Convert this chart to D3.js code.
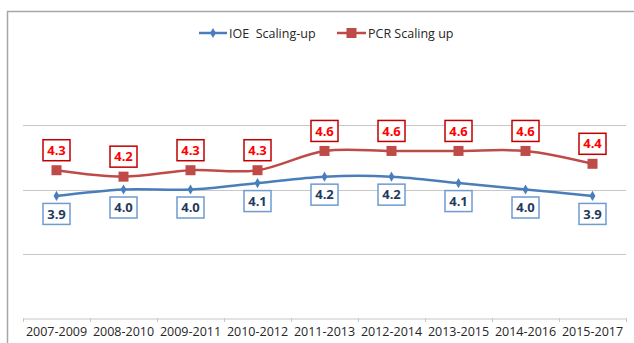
<!DOCTYPE html>
<html>
<head>
<meta charset="utf-8">
<script src="https://cdn.jsdelivr.net/npm/d3@7"></script>
<style>
  html, body { margin: 0; padding: 0; background: #fff; }
  svg { display: block; }
  text { font-family: "Open Sans", "Liberation Sans", sans-serif; }
</style>
</head>
<body>
<svg id="chart" width="634" height="343"></svg>
<script>
// Three-year rolling periods on the x axis
const periods = ["2007-2009", "2008-2010", "2009-2011", "2010-2012", "2011-2013",
                 "2012-2014", "2013-2015", "2014-2016", "2015-2017"];
// Average ratings per period
const ioeValues = [3.9, 4.0, 4.0, 4.1, 4.2, 4.2, 4.1, 4.0, 3.9];
const pcrValues = [4.3, 4.2, 4.3, 4.3, 4.6, 4.6, 4.6, 4.6, 4.4];
// Horizontal gridline values
const gridValues = [3, 4, 5];
const seriesNames = ["IOE  Scaling-up", "PCR Scaling up"];

const svg = d3.select("#chart");
const W = 634, H = 343;
const plot = { left: 23, right: 626, top: 61, bottom: 318 };

const x = d3.scaleBand().domain(periods).range([plot.left, plot.right]);
const y = d3.scaleLinear().domain([2, 6]).range([plot.bottom, plot.top]);

// Chart frame (top and left edges visible)
svg.append("path")
  .attr("d", `M7.5,${H} V11.5 H${W}`)
  .attr("fill", "none")
  .attr("stroke", "#a6a6a6")
  .attr("stroke-width", 1.5);

// Gridlines
svg.append("g").selectAll("line").data(gridValues).join("line")
  .attr("x1", plot.left).attr("x2", plot.right)
  .attr("y1", d => Math.round(y(d)) + 0.5).attr("y2", d => Math.round(y(d)) + 0.5)
  .attr("stroke", "#c8c8c8").attr("stroke-width", 1);

// Category axis
const xAxis = svg.append("g")
  .attr("transform", `translate(0,${plot.bottom + 0.5})`)
  .call(d3.axisBottom(x).tickSize(0).tickPadding(9));
xAxis.select(".domain").attr("stroke", "#c8c8c8");
xAxis.selectAll("text")
  .attr("font-size", 12.5)
  .attr("fill", "#262626")
  .attr("font-family", "'Open Sans', sans-serif");
// Tick marks between categories
const boundaries = periods.map(p => x(p)).concat([x.range()[1]]);
svg.append("g").selectAll("line").data(boundaries).join("line")
  .attr("x1", d => Math.round(d) + 0.5).attr("x2", d => Math.round(d) + 0.5)
  .attr("y1", plot.bottom).attr("y2", plot.bottom + 4)
  .attr("stroke", "#c8c8c8");

const cx = d => x(d) + x.bandwidth() / 2;
// Smoothed lines
const line = d3.line().x(d => cx(d.p)).y(d => y(d.v)).curve(d3.curveCatmullRom.alpha(0.5));

const ioe = periods.map((p, i) => ({ p, v: ioeValues[i] }));
const pcr = periods.map((p, i) => ({ p, v: pcrValues[i] }));

const blue = "#4a7ebb", red = "#be4b48";

// IOE series
svg.append("path").datum(ioe).attr("d", line)
  .attr("fill", "none").attr("stroke", blue).attr("stroke-width", 2.5)
  .attr("stroke-linejoin", "round");
svg.append("g").selectAll("path").data(ioe).join("path")
  .attr("d", d3.symbol(d3.symbolDiamond, 30))
  .attr("transform", d => `translate(${cx(d.p)},${y(d.v)})`)
  .attr("fill", blue);

// PCR series
svg.append("path").datum(pcr).attr("d", line)
  .attr("fill", "none").attr("stroke", red).attr("stroke-width", 2.5)
  .attr("stroke-linejoin", "round");
svg.append("g").selectAll("rect").data(pcr).join("rect")
  .attr("x", d => cx(d.p) - 5).attr("y", d => y(d.v) - 5)
  .attr("width", 10).attr("height", 10)
  .attr("fill", red);

const fmt = d3.format(".1f");

// Boxed value labels
function labels(data, dy, boxStroke, textFill) {
  const g = svg.append("g").selectAll("g").data(data).join("g")
    .attr("transform", d => `translate(${cx(d.p)},${y(d.v) + dy})`);
  g.append("rect")
    .attr("x", -13.5).attr("y", -10.5).attr("width", 27).attr("height", 21)
    .attr("fill", "#fff").attr("stroke", boxStroke).attr("stroke-width", 1.5);
  g.append("text")
    .attr("text-anchor", "middle").attr("dy", "0.36em")
    .attr("font-size", 13).attr("font-weight", "bold")
    .attr("fill", textFill)
    .text(d => fmt(d.v));
}
labels(pcr, -20, "#c00000", "#ff0000");
labels(ioe, 18, "#6f9bd1", "#1f3a60");

// Legend
const legend = svg.append("g").attr("transform", "translate(0,33)");
legend.append("line").attr("x1", 199).attr("x2", 227).attr("y1", 0).attr("y2", 0)
  .attr("stroke", blue).attr("stroke-width", 2.5);
legend.append("path").attr("d", d3.symbol(d3.symbolDiamond, 30))
  .attr("transform", "translate(213,0)").attr("fill", blue);
legend.append("text").attr("x", 229).attr("dy", "0.36em")
  .attr("font-size", 12.5).attr("fill", "#262626").attr("xml:space", "preserve")
  .style("white-space", "pre")
  .text(seriesNames[0]);
legend.append("line").attr("x1", 337).attr("x2", 366).attr("y1", 0).attr("y2", 0)
  .attr("stroke", red).attr("stroke-width", 2.5);
legend.append("rect").attr("x", 346.5).attr("y", -5).attr("width", 10).attr("height", 10)
  .attr("fill", red);
legend.append("text").attr("x", 368).attr("dy", "0.36em")
  .attr("font-size", 12.5).attr("fill", "#262626")
  .text(seriesNames[1]);
</script>
</body>
</html>
